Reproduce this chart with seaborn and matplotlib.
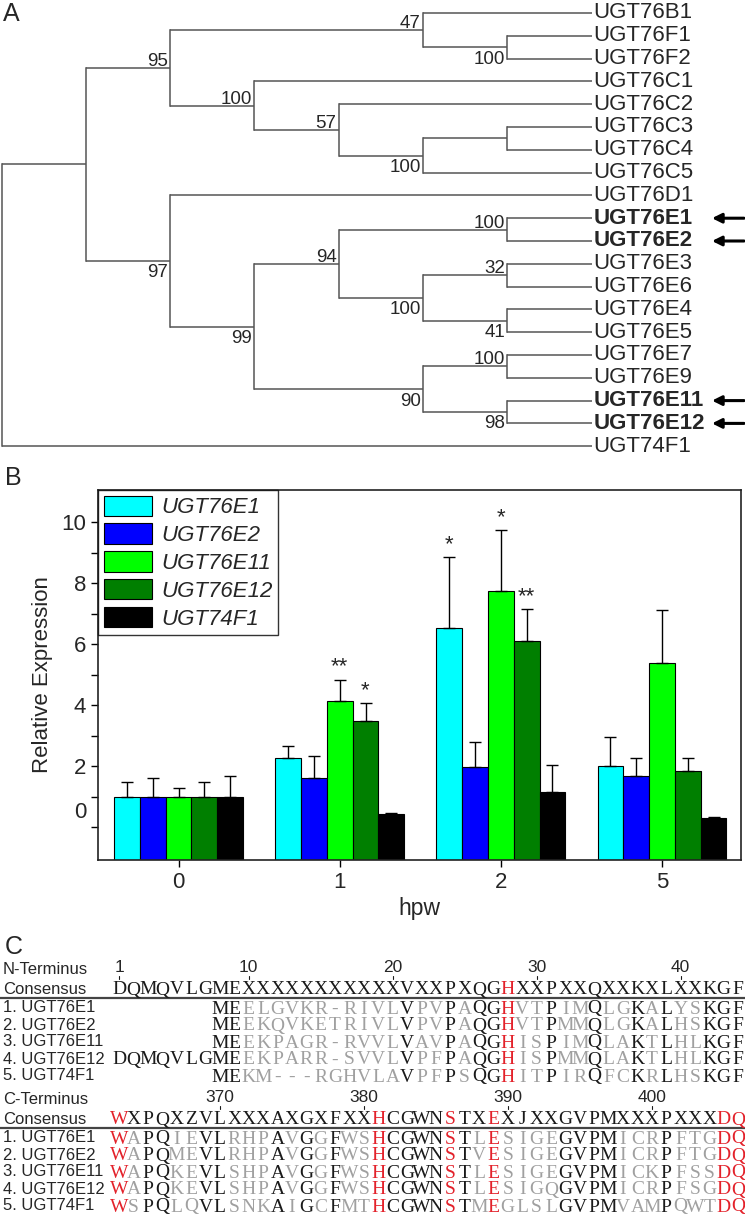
import numpy as np
import pandas as pd
import matplotlib
matplotlib.use("Agg")
import matplotlib.pyplot as plt
import seaborn as sns
from matplotlib.patches import Patch

# ---------------- A: cladogram ----------------
LEAVES = ["UGT76B1", "UGT76F1", "UGT76F2", "UGT76C1", "UGT76C2", "UGT76C3",
          "UGT76C4", "UGT76C5", "UGT76D1", "UGT76E1", "UGT76E2", "UGT76E3",
          "UGT76E6", "UGT76E4", "UGT76E5", "UGT76E7", "UGT76E9", "UGT76E11",
          "UGT76E12", "UGT74F1"]
BOLD_LEAVES = ["UGT76E1", "UGT76E2", "UGT76E11", "UGT76E12"]
# clade = (depth, bootstrap, side of the bootstrap label, children)
TREE = (0, None, None, [
    (1, None, None, [
        (2, 95, "above", [
            (5, 47, "above", ["UGT76B1", (6, 100, "below", ["UGT76F1", "UGT76F2"])]),
            (3, 100, "above", [
                "UGT76C1",
                (4, 57, "above", [
                    "UGT76C2",
                    (5, 100, "below", [(6, None, None, ["UGT76C3", "UGT76C4"]), "UGT76C5"]),
                ]),
            ]),
        ]),
        (2, 97, "below", [
            "UGT76D1",
            (3, 99, "below", [
                (4, 94, "above", [
                    (6, 100, "above", ["UGT76E1", "UGT76E2"]),
                    (5, 100, "below", [
                        (6, 32, "above", ["UGT76E3", "UGT76E6"]),
                        (6, 41, "below", ["UGT76E4", "UGT76E5"]),
                    ]),
                ]),
                (5, 90, "below", [
                    (6, 100, "above", ["UGT76E7", "UGT76E9"]),
                    (6, 98, "below", ["UGT76E11", "UGT76E12"]),
                ]),
            ]),
        ]),
    ]),
    "UGT74F1",
])
LEAF_DEPTH = 7

# ---------------- B: qRT-PCR ----------------
HPW = ["0", "1", "2", "5"]
GENES = ["UGT76E1", "UGT76E2", "UGT76E11", "UGT76E12", "UGT74F1"]
GENE_COLORS = ["#00FFFF", "#0000FF", "#00FF00", "#007F00", "#000000"]
EXPR_E1 = [1.00, 2.28, 6.53, 2.02]
EXPR_E2 = [1.00, 1.63, 1.96, 1.67]
EXPR_E11 = [1.00, 4.13, 7.75, 5.37]
EXPR_E12 = [1.00, 3.49, 6.10, 1.86]
EXPR_74F1 = [1.00, 0.43, 1.15, 0.29]
SD_E1 = [0.49, 0.40, 2.33, 0.93]
SD_E2 = [0.60, 0.71, 0.85, 0.61]
SD_E11 = [0.29, 0.71, 2.00, 1.74]
SD_E12 = [0.47, 0.58, 1.04, 0.40]
SD_74F1 = [0.68, 0.04, 0.88, 0.05]
STAR_HPW = ["1", "1", "2", "2", "2"]
STAR_GENE = ["UGT76E11", "UGT76E12", "UGT76E1", "UGT76E11", "UGT76E12"]
STAR_TEXT = ["**", "*", "*", "*", "**"]

# ---------------- C: alignment ----------------
ROW_NAMES = ["1. UGT76E1", "2. UGT76E2", "3. UGT76E11", "4. UGT76E12", "5. UGT74F1"]
N_CONSENSUS = "DQMQVLGME" + "X" * 11 + "VXXPXQGHXXPXXQXXKXLXXKGF"
N_FIRST = 1
N_MARKS = [1, 10, 20, 30, 40]
N_RED = [28]
N_START = [8, 8, 8, 1, 8]
N_ROWS = ["MEELGVKR-RIVLVPVPAQGHVTPIMQLGKALYSKGF",
          "MEEKQVKETRIVLVPVPAQGHVTPMMQLGKALHSKGF",
          "MEEKPAGR-RVVLVAVPAQGHISPIMQLAKTLHLKGF",
          "DQMQVLGMEEKPARR-SVVLVPFPAQGHISPMMQLAKTLHLKGF",
          "MEKM---RGHVLAVPFPSQGHITPIRQFCKRLHSKGF"]
C_CONSENSUS = "WXPQXZVLXXXAXGXFXXHCGWNSTXEXJXXGVPMXXXPXXXDQ"
C_FIRST = 363
C_MARKS = [370, 380, 390, 400]
C_RED = [363, 381, 386, 389, 405, 406]
C_START = [363, 363, 363, 363, 363]
C_ROWS = ["WAPQIEVLRHPAVGGFWSHCGWNSTLESIGEGVPMICRPFTGDQ",
          "WAPQMEVLRHPAVGGFWSHCGWNSTVESIGEGVPMICRPFTGDQ",
          "WAPQKEVLSHPAVGGFWSHCGWNSTLESIGEGVPMICKPFSSDQ",
          "WAPQKEVLSHPAVGGFWSHCGWNSTLESIGQGVPMICRPFSGDQ",
          "WSPQLQVLSNKAIGCFMTHCGWNSTMEGLSLGVPMVAMPQWTDQ"]

W, H, DPI = 745, 1223, 100
TREE_COLOR = "#555555"
RED, BLACK, GRAY = "#E3222B", "#1A1A1A", "#A0A0A0"

sns.set_style("ticks")
plt.rcParams["font.family"] = ["Liberation Sans", "DejaVu Sans"]
SEQ_FONT = ["Liberation Serif", "DejaVu Serif"]

fig = plt.figure(figsize=(W / DPI, H / DPI), dpi=DPI)


def px_axes(left, top, width, height):
    return fig.add_axes([left / W, 1 - (top + height) / H, width / W, height / H])


# ===== panel A =====
ax_a = px_axes(0, 0, W, 462)
ax_a.axis("off")
step_x, step_y = 84.3, 22.8
ax_a.set_xlim(-1.5 / step_x, (W - 1.5) / step_x)
ax_a.set_ylim((462 - 13) / step_y, -13 / step_y)
leaf_y = {name: i for i, name in enumerate(LEAVES)}


def draw_clade(node):
    if isinstance(node, str):
        return LEAF_DEPTH, leaf_y[node]
    depth, support, side, children = node
    ends = [draw_clade(c) for c in children]
    for cx, cy in ends:
        ax_a.plot([depth, cx], [cy, cy], color=TREE_COLOR, lw=1.1, solid_capstyle="butt")
    ax_a.plot([depth, depth], [ends[0][1], ends[-1][1]], color=TREE_COLOR, lw=1.1,
              solid_capstyle="projecting")
    y = (ends[0][1] + ends[-1][1]) / 2
    if support is not None:
        above = side == "above"
        ax_a.annotate(str(support), xy=(depth, y), xytext=(-1.5, 1.5 if above else -2.5),
                      textcoords="offset points", ha="right",
                      va="baseline" if above else "top", fontsize=13.5)
    return depth, y


draw_clade(TREE)
for name in LEAVES:
    bold = name in BOLD_LEAVES
    ax_a.annotate(name, xy=(LEAF_DEPTH, leaf_y[name]), xytext=(1.5, 0),
                  textcoords="offset points", va="center", ha="left", fontsize=16,
                  fontweight="bold" if bold else "normal")
    if bold:
        ax_a.annotate("", xy=(712 / W, leaf_y[name]), xytext=(744 / W, leaf_y[name]),
                      xycoords=("axes fraction", "data"), textcoords=("axes fraction", "data"),
                      arrowprops=dict(arrowstyle="-|>", lw=2.2, color="black",
                                      mutation_scale=14, shrinkA=0, shrinkB=0))
fig.text(3 / W, 1 - 14 / H, "A", fontsize=18, va="center", ha="left")

# ===== panel B =====
expr = [EXPR_E1, EXPR_E2, EXPR_E11, EXPR_E12, EXPR_74F1]
sd = [SD_E1, SD_E2, SD_E11, SD_E12, SD_74F1]
df = pd.DataFrame({
    "hpw": HPW * len(GENES),
    "gene": np.repeat(GENES, len(HPW)),
    "expr": np.concatenate(expr),
    "sd": np.concatenate(sd),
})

ax_b = px_axes(98, 490, 643, 370)
YMIN, YMAX = -1.07, 11.05
sns.barplot(data=df, x="hpw", y="expr", hue="gene", order=HPW, hue_order=GENES,
            palette=GENE_COLORS, width=0.8, edgecolor="black", linewidth=0.8,
            errorbar=None, legend=False, saturation=1, ax=ax_b)

bar_tops = {}
for gene, cont, gene_sd in zip(GENES, ax_b.containers, sd):
    for hpw, patch, err in zip(HPW, cont.patches, gene_sd):
        top = patch.get_height()
        xc = patch.get_x() + patch.get_width() / 2
        # bars in the original start from the bottom of the axis
        patch.set_y(YMIN)
        patch.set_height(top - YMIN)
        ax_b.errorbar(xc, top, yerr=[[0], [err]], fmt="none", ecolor="black",
                      elinewidth=1, capsize=4, capthick=1)
        bar_tops[(gene, hpw)] = (xc, top + err)

for hpw, gene, txt in zip(STAR_HPW, STAR_GENE, STAR_TEXT):
    xc, yt = bar_tops[(gene, hpw)]
    ax_b.annotate(txt, xy=(xc, yt), xytext=(0, 5), textcoords="offset points",
                  ha="center", va="baseline", fontsize=16)

ax_b.set_ylim(YMIN, YMAX)
ax_b.set_xlim(-0.5, 3.49)
ax_b.set_yticks([0, 2, 4, 6, 8, 10])
ax_b.set_yticklabels(["", "2", "4", "6", "8", "10"])
ax_b.set_yticks([1, 3, 5, 7, 9], minor=True)
ax_b.annotate("0", xy=(0, 0.5), xycoords=("axes fraction", "data"), xytext=(-8.5, 0),
              textcoords="offset points", ha="right", va="center", fontsize=16)
ax_b.tick_params(axis="both", which="major", direction="out", length=5, width=1,
                 labelsize=16, color="black", pad=3.5)
ax_b.tick_params(axis="y", which="minor", direction="out", length=5, width=1, color="black")
ax_b.set_xlabel("hpw", fontsize=16.5, labelpad=3)
ax_b.set_ylabel("Relative Expression", fontsize=16, labelpad=6)
for sp in ax_b.spines.values():
    sp.set_visible(True)
    sp.set_linewidth(1.2)
    sp.set_color("#222222")

handles = [Patch(facecolor=c, edgecolor="black", linewidth=0.8, label=g)
           for g, c in zip(GENES, GENE_COLORS)]
leg = ax_b.legend(handles=handles, loc="upper left", borderaxespad=0, frameon=True,
                  fancybox=False, edgecolor="black", handlelength=2.2, handleheight=1.05,
                  handletextpad=0.4, labelspacing=0.22, borderpad=0.25,
                  prop={"style": "italic", "size": 16})
leg.get_frame().set_linewidth(1.0)
fig.text(5 / W, 1 - 478 / H, "B", fontsize=18, va="center", ha="left")

# ===== panel C =====
C_TOP = 925
ax_c = px_axes(0, C_TOP, W, H - C_TOP)
ax_c.axis("off")
pitch, col1 = 14.4, 119
ax_c.set_xlim(1 - col1 / pitch, 1 + (W - col1) / pitch)
ax_c.set_ylim(H - C_TOP, 0)
fig.text(5 / W, 1 - 947 / H, "C", fontsize=18, va="center", ha="left")


def draw_block(title, first, consensus, marks, red, starts, rows, y0):
    y_title, y_cons, y_line, y_row = y0, y0 + 20, y0 + 29, y0 + 39
    head = dict(transform=ax_c.get_yaxis_transform(), ha="left", va="center", fontsize=12)
    ax_c.text(3 / W, y_title, title, **head)
    ax_c.text(3 / W, y_cons, "Consensus", **head)
    for m in marks:
        col = m - first + 1
        ax_c.text(col, y_title - 1, str(m), ha="center", va="center", fontsize=12.5)
        ax_c.plot([col, col], [y_title + 7, y_title + 10], color=BLACK, lw=0.8)
    ax_c.plot([0, 1], [y_line, y_line], transform=ax_c.get_yaxis_transform(),
              color="#444444", lw=1.6)
    for j, ch in enumerate(consensus):
        pos = first + j
        ax_c.text(j + 1, y_cons + 1, ch, ha="center", va="center", family=SEQ_FONT,
                  fontsize=14, color=RED if pos in red else BLACK)
    for r, (name, start, seq) in enumerate(zip(ROW_NAMES, starts, rows)):
        yr = y_row + 17 * r
        ax_c.text(3 / W, yr, name, transform=ax_c.get_yaxis_transform(), ha="left",
                  va="center", fontsize=12)
        for j, ch in enumerate(seq):
            pos = start + j
            cons = consensus[pos - first]
            color = RED if pos in red else (BLACK if ch == cons else GRAY)
            ax_c.text(pos - first + 1, yr + 1, ch, ha="center", va="center",
                      family=SEQ_FONT, fontsize=14, color=color)


draw_block("N-Terminus", N_FIRST, N_CONSENSUS, N_MARKS, N_RED, N_START, N_ROWS, 969 - C_TOP)
draw_block("C-Terminus", C_FIRST, C_CONSENSUS, C_MARKS, C_RED, C_START, C_ROWS, 1099 - C_TOP)

fig.savefig("out.png", dpi=DPI)
